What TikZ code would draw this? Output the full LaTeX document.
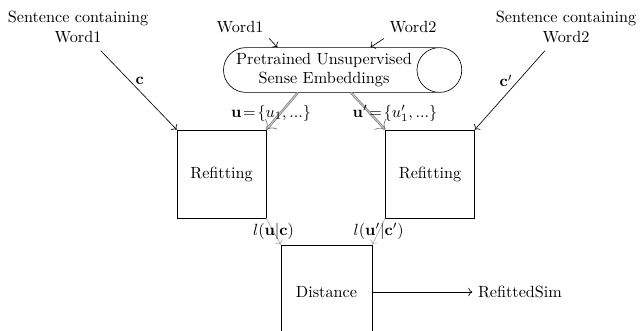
\documentclass[tikz,border=0pt]{standalone}
\usepackage{tikz}
\usetikzlibrary{positioning, shapes.geometric, arrows.meta, calc}
\usepackage{amsmath}
\usepackage{amssymb}
\usepackage{xcolor}

\tikzset{
  procbox/.style={draw, minimum width=1.93cm, minimum height=1.91cm},
  store/.style={draw, cylinder, aspect=1, align=center, minimum height=4.85cm, minimum width=0.95cm, inner xsep=3pt},
  embarrow/.style={->, double, draw=gray!90!black, double=gray!40},
  lossarrow/.style={->, draw=gray!70}
}

\begin{document}
\begin{tikzpicture}[x=0.0217cm, y=0.0217cm]
\useasboundingbox (0,0) rectangle (643,-331);

% Inputs
\node[align=center] (sent1) at (78,-27) {Sentence containing\\Word1};
\node[align=center] (sent2) at (566,-27) {Sentence containing\\Word2};
\node (word1) at (240,-27) {Word1};
\node (word2) at (413,-27) {Word2};

% Embeddings
\node[store] (emb) at (324,-70) {Pretrained Unsupervised\\Sense Embeddings};

% Refitting boxes
\node[procbox] (ref1) at (221.5,-174) {Refitting};
\node[procbox] (ref2) at (430,-174) {Refitting};

% Distance
\node[procbox, minimum width=1.97cm, minimum height=2.04cm] (dist) at (326.5,-292) {Distance};
\node (sim) at (520,-292) {RefittedSim};

% Context arrows
\draw[->, shorten <=2pt] (sent1) -- node[pos=0.4, right] {$\mathbf{c}$} (ref1.north west);
\draw[->, shorten <=2pt] (sent2) -- node[pos=0.4, left] {$\mathbf{c}'$} (ref2.north east);

% Word arrows
\draw[->] (word1.south east) -- (emb.154);
\draw[->] (word2.south west) -- (emb.26);

% Sense embeddings
\draw[embarrow] (emb.221) -- (ref1.north east);
\draw[embarrow] (emb.320) -- (ref2.north west);
\node (lu1) at (271,-113) {$\mathbf{u}\!=\!\{u_1,...\}$};
\node (lu2) at (395,-113) {$\mathbf{u}'\!=\!\{u'_1,...\}$};

% Likelihoods
\draw[lossarrow] (ref1.south east) -- node {$l(\mathbf{u}|\mathbf{c})$} (dist.north west);
\draw[lossarrow] (ref2.south west) -- node {$l(\mathbf{u}'|\mathbf{c}')$} (dist.north east);

% Output
\draw[->] (dist) -- (sim);

\end{tikzpicture}
\end{document}
